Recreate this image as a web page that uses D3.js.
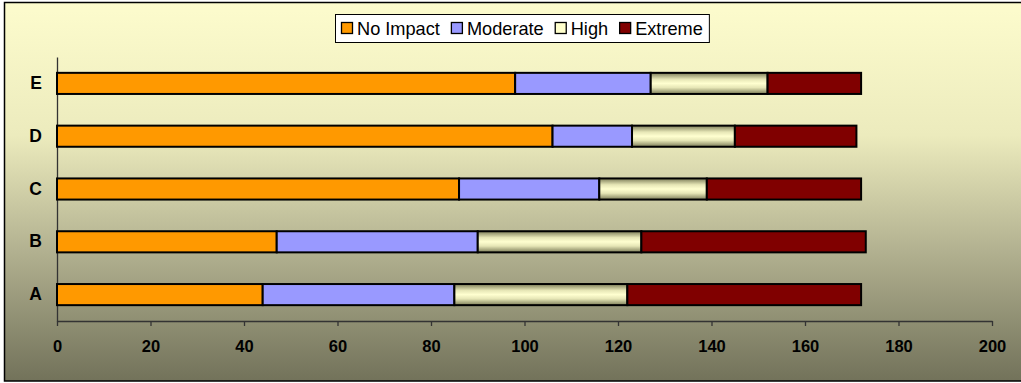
<!DOCTYPE html>
<html>
<head>
<meta charset="utf-8">
<script src="https://cdn.jsdelivr.net/npm/d3@7"></script>
<style>
  body { margin: 0; background: #fff; }
  svg { display: block; }
  text { font-family: 'Liberation Sans', Arial, sans-serif; }
</style>
</head>
<body>
<div id="chart"></div>
<script>
// chart data
const categories = ['E', 'D', 'C', 'B', 'A']
const seriesNames = ['No Impact', 'Moderate', 'High', 'Extreme']
const noImpact = [98, 106, 86, 47, 44]
const moderate = [29, 17, 30, 43, 41]
const high = [25, 22, 23, 35, 37]
const extreme = [20, 26, 33, 48, 50]
const xTicks = [0, 20, 40, 60, 80, 100, 120, 140, 160, 180, 200]

const width = 1021
const height = 383

const svg = d3
  .select('#chart')
  .append('svg')
  .attr('width', width)
  .attr('height', height)

const defs = svg.append('defs')

const bg = defs.append('linearGradient')
  .attr('id', 'bg')
  .attr('x1', 0).attr('y1', 0).attr('x2', 0).attr('y2', 1)
bg.append('stop').attr('offset', '0').attr('stop-color', '#fdfccd')
bg.append('stop').attr('offset', '0.35').attr('stop-color', '#ecebbd')
bg.append('stop').attr('offset', '0.65').attr('stop-color', '#b3b291')
bg.append('stop').attr('offset', '1').attr('stop-color', '#72725a')

const hi = defs.append('linearGradient')
  .attr('id', 'high')
  .attr('x1', 0).attr('y1', 0).attr('x2', 0).attr('y2', 1)
hi.append('stop').attr('offset', '0').attr('stop-color', '#7c7c58')
hi.append('stop').attr('offset', '0.3').attr('stop-color', '#e6e6b6')
hi.append('stop').attr('offset', '0.5').attr('stop-color', '#ffffd0')
hi.append('stop').attr('offset', '0.7').attr('stop-color', '#e6e6b6')
hi.append('stop').attr('offset', '1').attr('stop-color', '#7c7c58')

const fills = ['#ff9900', '#9999ff', 'url(#high)', '#800000']
const swatchFills = ['#ff9900', '#9999ff', '#ffffcc', '#800000']

// background + frame
svg.append('rect')
  .attr('x', 4.5)
  .attr('y', 2.5)
  .attr('width', width)
  .attr('height', 378.5)
  .attr('fill', 'url(#bg)')
  .attr('stroke', '#000')
  .attr('stroke-width', 1.5)

const xScale = d3.scaleLinear().domain([0, 200]).range([57, 992])
const yScale = d3.scaleBand()
  .domain(categories)
  .range([57, 321])
  .paddingInner(0.6)
  .paddingOuter(0.3)

// stack the series per category
const rows = categories.map((c, i) => ({
  cat: c,
  values: [noImpact[i], moderate[i], high[i], extreme[i]]
}))
const segments = []
rows.forEach(r => {
  let start = 0
  r.values.forEach((v, k) => {
    segments.push({ cat: r.cat, k: k, x0: start, x1: start + v })
    start += v
  })
})

// axes
const xAxis = d3.axisBottom(xScale)
  .tickValues(xTicks)
  .tickSize(5)
  .tickSizeOuter(0)
  .tickPadding(14)

const gx = svg.append('g')
  .attr('class', 'x-axis')
  .attr('transform', 'translate(0,321)')
  .call(xAxis)
gx.select('.domain').attr('stroke', '#333').attr('stroke-width', 1.3)
gx.selectAll('.tick line').attr('stroke', '#333').attr('stroke-width', 1.3)
gx.selectAll('.tick text')
  .attr('font-size', 16.5)
  .attr('font-weight', 'bold')
  .attr('fill', '#000')
  .style('font-family', "'Liberation Sans', Arial, sans-serif")

const yAxis = d3.axisLeft(yScale).tickSize(0).tickPadding(15)
const gy = svg.append('g')
  .attr('class', 'y-axis')
  .attr('transform', 'translate(57,0)')
  .call(yAxis)
gy.select('.domain').attr('stroke', '#333').attr('stroke-width', 1.3)
gy.selectAll('.tick text')
  .attr('font-size', 17.5)
  .attr('font-weight', 'bold')
  .attr('fill', '#000')
  .style('font-family', "'Liberation Sans', Arial, sans-serif")

// bars
svg.append('g')
  .selectAll('rect')
  .data(segments)
  .enter()
  .append('rect')
  .attr('x', d => xScale(d.x0))
  .attr('y', d => yScale(d.cat))
  .attr('width', d => xScale(d.x1) - xScale(d.x0))
  .attr('height', yScale.bandwidth())
  .attr('fill', d => fills[d.k])
  .attr('stroke', '#000')
  .attr('stroke-width', 2)

// legend
const legend = svg.append('g').attr('class', 'legend')
const legendBox = legend.append('rect')
  .attr('fill', '#fff')
  .attr('stroke', '#000')
  .attr('stroke-width', 1)

let lx = 341
seriesNames.forEach((name, k) => {
  legend.append('rect')
    .attr('x', lx + 0.5)
    .attr('y', 22.5)
    .attr('width', 11)
    .attr('height', 11)
    .attr('fill', swatchFills[k])
    .attr('stroke', '#000')
    .attr('stroke-width', 1.3)
  const t = legend.append('text')
    .attr('x', lx + 16)
    .attr('y', 35)
    .attr('font-size', 18.2)
    .attr('fill', '#000')
    .text(name)
  lx += 16 + t.node().getComputedTextLength() + 11
})

legendBox
  .attr('x', 335.5)
  .attr('y', 14.5)
  .attr('width', lx - 335 - 5)
  .attr('height', 28)
</script>
</body>
</html>
